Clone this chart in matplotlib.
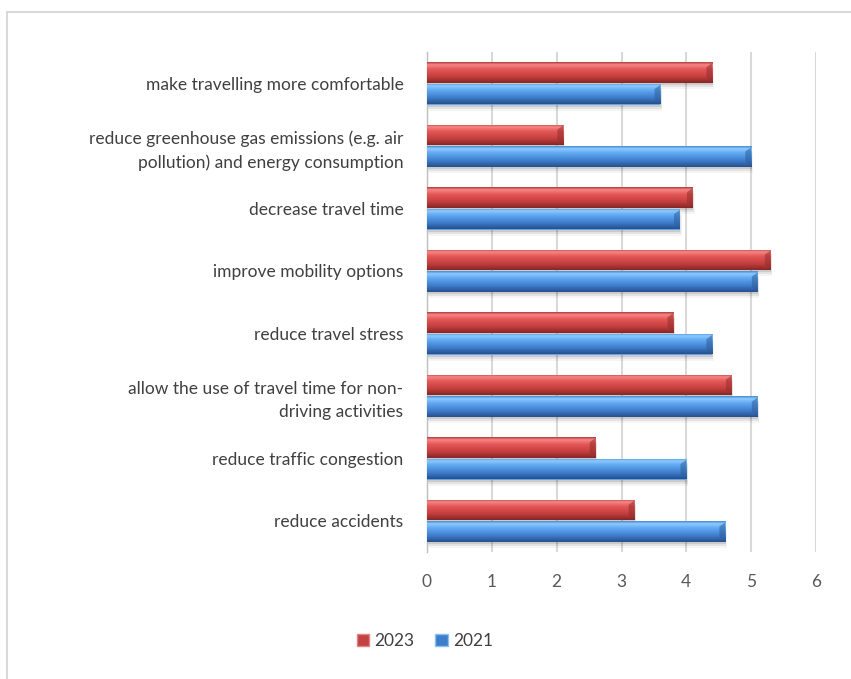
import numpy as np
import matplotlib
matplotlib.use("Agg")
import matplotlib.pyplot as plt
from matplotlib.colors import LinearSegmentedColormap, to_rgb
from matplotlib.patches import Rectangle, Patch

plt.rcParams['font.family'] = ['Lato', 'DejaVu Sans']

categories = [
    "reduce accidents",
    "reduce traffic congestion",
    "allow the use of travel time for non-\ndriving activities",
    "reduce travel stress",
    "improve mobility options",
    "decrease travel time",
    "reduce greenhouse gas emissions (e.g. air\npollution) and energy consumption",
    "make travelling more comfortable",
]
v2023 = [3.2, 2.6, 4.7, 3.8, 5.3, 4.1, 2.1, 4.4]
v2021 = [4.6, 4.0, 5.1, 4.4, 5.1, 3.9, 5.0, 3.6]
series = ["2023", "2021"]
xticks = [0, 1, 2, 3, 4, 5, 6]

red_stops = [(0.0, "#b23c3c"), (0.12, "#f88686"), (0.35, "#e35656"),
             (0.7, "#c43e3e"), (1.0, "#852626")]
blue_stops = [(0.0, "#4a8ad2"), (0.12, "#8ccaff"), (0.35, "#5fa6f0"),
              (0.7, "#3d7dca"), (1.0, "#284f8c")]

W, H = 851, 679
fig = plt.figure(figsize=(W / 100, H / 100), dpi=100)

# outer chart border (right and bottom run off the canvas)
fig.patches.append(Rectangle((7 / W, 0 - 0.02), 1.2, 1 - 12 / H + 0.02,
                             transform=fig.transFigure, fill=False,
                             edgecolor="#d9d9d9", linewidth=1.5))

ax = fig.add_axes([427 / W, 1 - 552 / H, (816 - 427) / W, (552 - 52) / H])

y = np.arange(len(categories))
h = 0.33


def gradient_bars(values, offset, stops, z):
    cmap = LinearSegmentedColormap.from_list("g", stops)
    grad = cmap(np.linspace(0, 1, 64))[:, :3].reshape(64, 1, 3)
    bars = ax.barh(y + offset, values, height=h, color=stops[2][1],
                   edgecolor="none", zorder=z)
    for p in bars:
        x0, y0 = p.get_x(), p.get_y()
        w, hh = p.get_width(), p.get_height()
        # soft drop shadow
        for k, a in enumerate([0.10, 0.07, 0.04]):
            d = 0.015 * (k + 1)
            ax.add_patch(Rectangle((x0 + d * 0.6, y0 - d * 2.2), w, hh,
                                   facecolor="black", alpha=a,
                                   edgecolor="none", zorder=z - 1))
        im = ax.imshow(grad, extent=[x0, x0 + w, y0, y0 + hh], aspect="auto",
                       origin="upper", zorder=z + 0.5, interpolation="bilinear")
        im.set_clip_path(p)
        # bevelled right end
        bev = 0.09
        dark = tuple(c * 0.75 for c in to_rgb(stops[3][1]))
        ax.fill([x0 + w - bev, x0 + w, x0 + w, x0 + w - bev],
                [y0 + hh * 0.25, y0 + hh * 0.05, y0 + hh * 0.95, y0 + hh * 0.75],
                color=dark, alpha=0.55, zorder=z + 0.6, linewidth=0)
    return bars


gradient_bars(v2023, h / 2 + 0.01, red_stops, 4)
gradient_bars(v2021, -h / 2 - 0.01, blue_stops, 4)

ax.set_xlim(0, 6)
ax.set_ylim(-0.5, len(categories) - 0.5)
ax.set_xticks(xticks)
ax.set_xticklabels([str(t) for t in xticks], fontsize=12.5, color="#595959")
ax.set_yticks(y)
ax.set_yticklabels(categories, fontsize=12.5, color="#404040",
                   multialignment="right", linespacing=1.55)
ax.tick_params(axis="both", length=0)
ax.tick_params(axis="x", pad=16)
ax.tick_params(axis="y", pad=17)
ax.grid(axis="x", color="#d9d9d9", linewidth=1.5, zorder=0)
ax.set_axisbelow(True)
for s in ["top", "right", "bottom"]:
    ax.spines[s].set_visible(False)
ax.spines["left"].set_color("#bfbfbf")
ax.spines["left"].set_linewidth(1.0)
ax.set_facecolor("none")

handles = [Patch(facecolor="#c04242", edgecolor="#e88080", label=series[0]),
           Patch(facecolor="#3d7dca", edgecolor="#8cc0f0", label=series[1])]
fig.legend(handles=handles, loc="center", bbox_to_anchor=(425 / W, 1 - 641 / H),
           ncol=2, frameon=False, fontsize=12.5, handlelength=0.7,
           handleheight=0.7, handletextpad=0.3, columnspacing=1.2,
           labelcolor="#404040")

fig.savefig("out.png", dpi=100)
